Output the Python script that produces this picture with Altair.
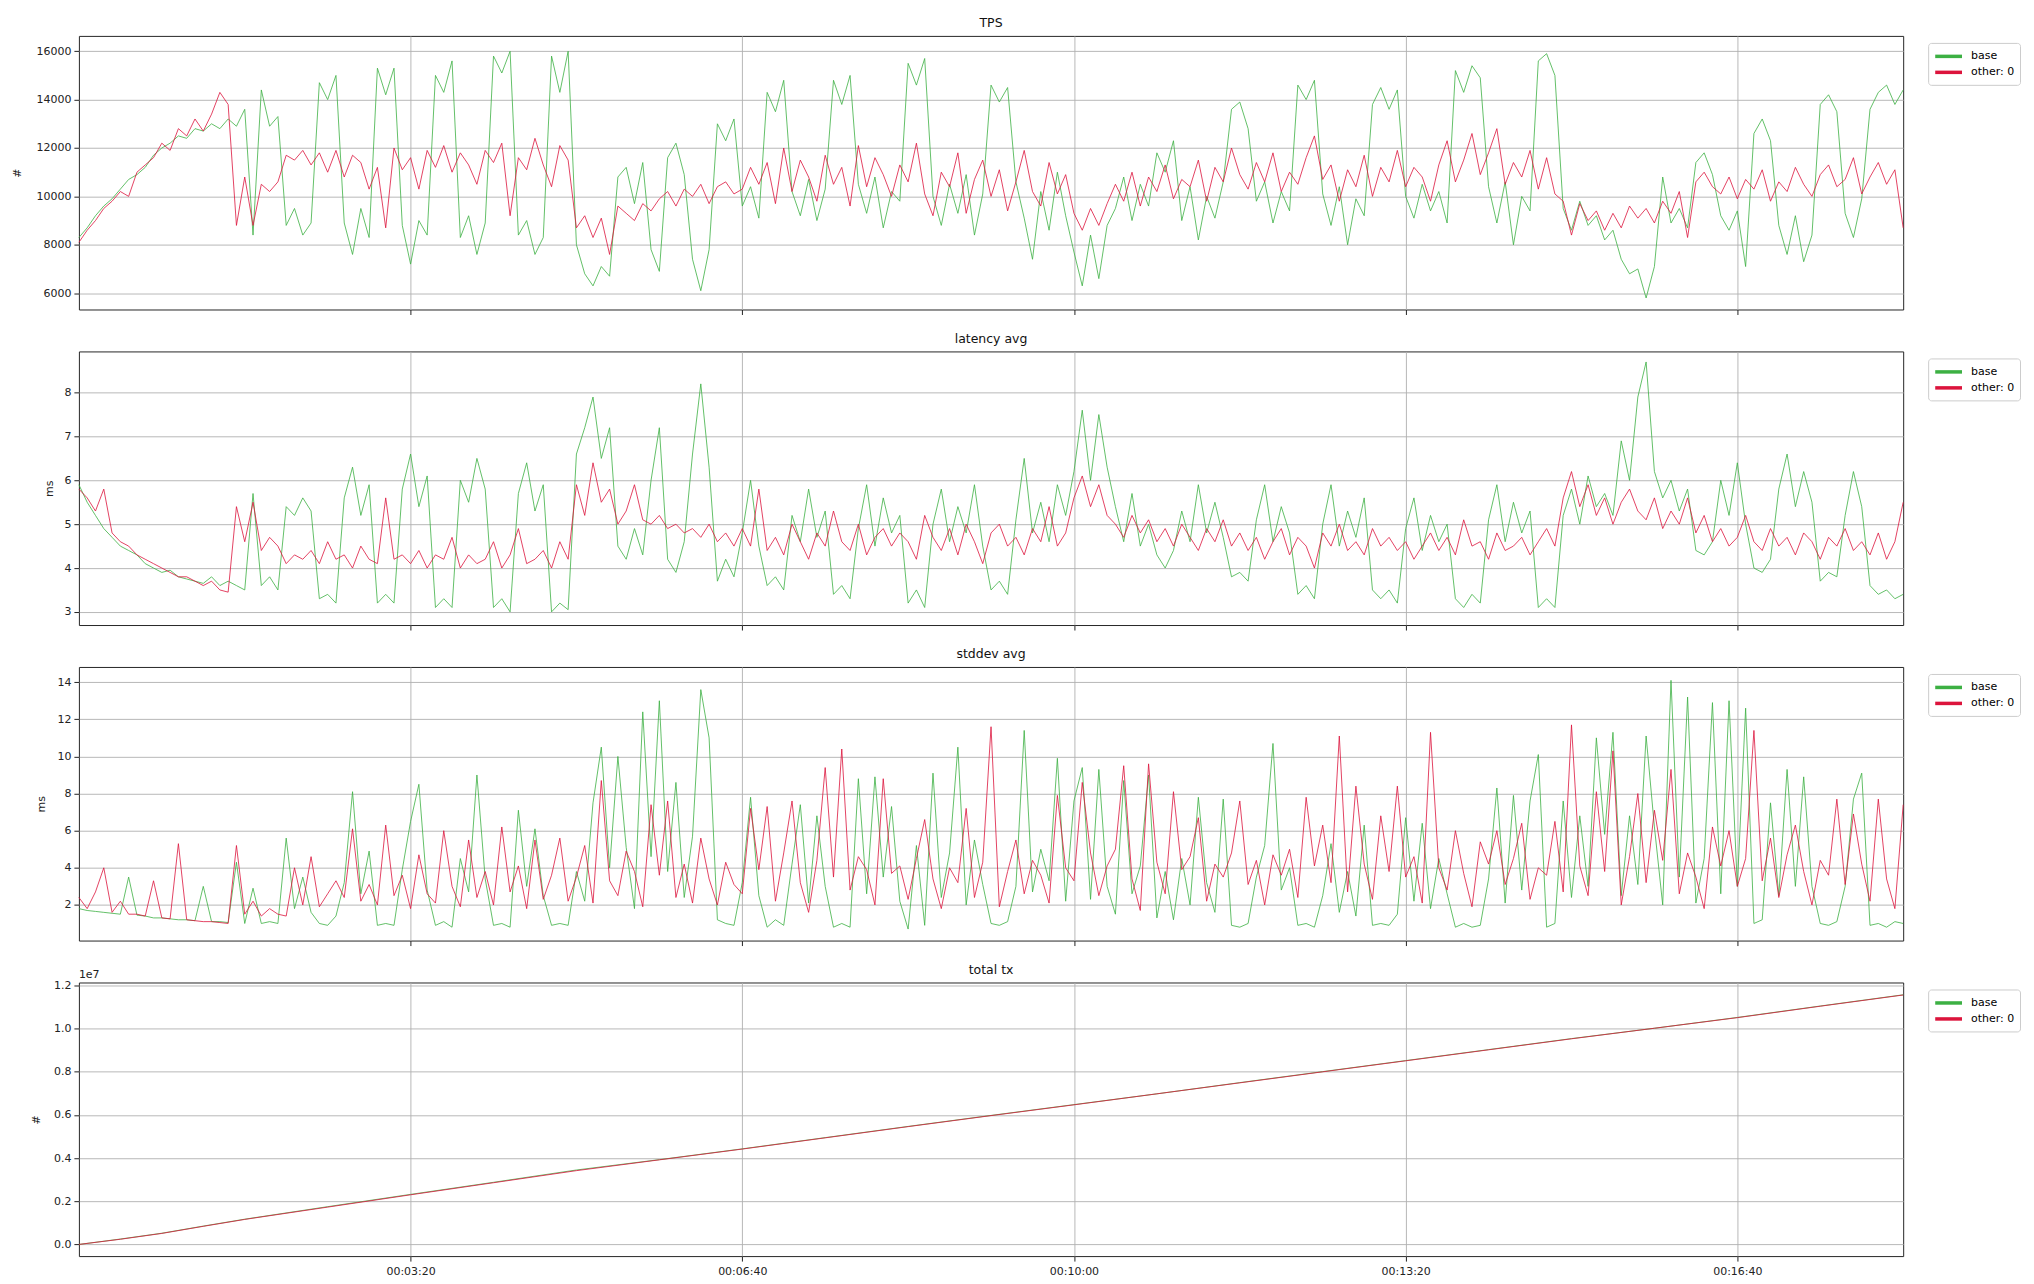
import altair as alt
import pandas as pd

# ---------------- data (5 s sampling) ----------------
STEP = 5
SERIES = ["base", "other: 0"]
COLORS = ["#3cb043", "#dc143c"]
X_TICKS = [200, 400, 600, 800, 1000]

tps_base = [
    8300, 8700, 9200, 9600, 9900, 10300, 10700, 10900, 11200, 11700, 12000, 12200, 12500, 12400, 12800, 12700, 13000, 12800, 13200, 12900,
    13600, 8400, 14400, 12900, 13300, 8800, 9500, 8400, 8900, 14700, 14000, 15000, 8900, 7600, 9500, 8300, 15300, 14200, 15300, 8800,
    7200, 9000, 8400, 15000, 14300, 15600, 8300, 9200, 7600, 8900, 15800, 15100, 16000, 8400, 9000, 7600, 8300, 15800, 14300, 16000,
    8000, 6800, 6300, 7100, 6700, 10800, 11200, 9700, 11400, 7800, 6900, 11600, 12200, 10900, 7400, 6100, 7800, 13000, 12300, 13200,
    9600, 10400, 9100, 14300, 13500, 14800, 10200, 9200, 10700, 9000, 10300, 14800, 13800, 15000, 10500, 9300, 10800, 8700, 10200, 9800,
    15500, 14600, 15700, 10000, 8800, 10500, 9300, 10900, 8400, 10100, 14600, 13900, 14500, 10600, 9100, 7400, 10200, 8600, 11000, 9200,
    7700, 6300, 8400, 6600, 8800, 9500, 10800, 9000, 10500, 9600, 11800, 11000, 12300, 9000, 10400, 8200, 10000, 9100, 10600, 13600,
    13900, 12800, 9800, 10600, 8900, 10200, 9400, 14600, 14000, 14800, 10100, 8800, 10400, 8000, 9900, 9200, 13800, 14500, 13600, 14400,
    10000, 9100, 10500, 9400, 10200, 8900, 15200, 14300, 15400, 14900, 10400, 8900, 10600, 8000, 10000, 9400, 15600, 15900, 15000, 9500,
    8600, 9800, 8800, 9200, 8200, 8600, 7400, 6800, 7000, 5800, 7100, 10800, 8900, 9500, 8700, 11400, 11800, 10900, 9200, 8600,
    9400, 7100, 12600, 13200, 12300, 8800, 7600, 9200, 7300, 8400, 13800, 14200, 13500, 9300, 8300, 9900, 13600, 14300, 14600, 13800,
    14400,
]
tps_other = [
    8100, 8600, 9000, 9500, 9800, 10200, 10000, 11000, 11300, 11600, 12200, 11900, 12800, 12500, 13200, 12700, 13400, 14300, 13800, 8800,
    10800, 8800, 10500, 10200, 10600, 11700, 11500, 11900, 11300, 11800, 11000, 11900, 10800, 11700, 11400, 10300, 11200, 8700, 12000, 11100,
    11600, 10300, 11900, 11200, 12100, 11000, 11800, 11300, 10500, 11900, 11400, 12200, 9200, 11600, 11100, 12400, 11300, 10400, 12100, 11500,
    8700, 9200, 8300, 9100, 7600, 9600, 9300, 9000, 9700, 9400, 9900, 10200, 9600, 10300, 10000, 10500, 9700, 10400, 10600, 10100,
    10300, 11200, 10500, 11400, 9700, 12000, 10200, 11500, 10800, 9800, 11700, 10500, 11200, 9600, 12100, 10400, 11600, 10900, 10000, 11300,
    10600, 12200, 10100, 9200, 11000, 10400, 11800, 9300, 10700, 11500, 10000, 11100, 9400, 10600, 11900, 10200, 9600, 11400, 10100, 10900,
    9300, 8600, 9500, 8800, 9700, 10500, 9800, 11000, 9600, 10800, 10200, 11300, 9900, 10700, 10400, 11500, 9800, 11200, 10600, 12000,
    10900, 10300, 11400, 10600, 11800, 10200, 11000, 10500, 11600, 12500, 10700, 11300, 9800, 11100, 10400, 11700, 10000, 11200, 10600, 11900,
    10400, 11200, 10800, 9800, 11300, 12300, 10600, 11500, 12600, 10900, 11800, 12800, 10500, 11400, 10800, 11900, 10300, 11600, 10100, 9800,
    8400, 9700, 9000, 9400, 8600, 9300, 8700, 9600, 9100, 9500, 8900, 9800, 9300, 10200, 8300, 10600, 11000, 10400, 10100, 10800,
    9900, 10700, 10300, 11100, 9800, 10600, 10200, 11200, 10500, 10000, 10900, 11300, 10400, 10700, 11600, 10100, 10800, 11400, 10500, 11100,
    8700,
]

lat_base = [
    5.9, 5.5, 5.2, 4.9, 4.7, 4.5, 4.4, 4.3, 4.1, 4.0, 3.9, 3.95, 3.8, 3.75, 3.7, 3.65, 3.8, 3.6, 3.7, 3.6,
    3.5, 5.7, 3.6, 3.8, 3.5, 5.4, 5.2, 5.6, 5.3, 3.3, 3.4, 3.2, 5.6, 6.3, 5.2, 5.9, 3.2, 3.4, 3.2, 5.8,
    6.6, 5.4, 6.1, 3.1, 3.3, 3.1, 6.0, 5.5, 6.5, 5.8, 3.1, 3.3, 3.0, 5.7, 6.4, 5.3, 5.9, 3.0, 3.2, 3.05,
    6.6, 7.2, 7.9, 6.5, 7.2, 4.5, 4.2, 4.9, 4.3, 6.0, 7.2, 4.2, 3.9, 4.6, 6.6, 8.2, 6.3, 3.7, 4.2, 3.8,
    4.8, 6.0, 4.5, 3.6, 3.8, 3.5, 5.2, 4.6, 5.8, 4.7, 5.3, 3.4, 3.6, 3.3, 4.9, 5.9, 4.5, 5.6, 4.8, 5.2,
    3.2, 3.5, 3.1, 5.0, 5.8, 4.6, 5.4, 4.8, 5.9, 4.5, 3.5, 3.7, 3.4, 5.1, 6.5, 4.8, 5.5, 4.6, 5.9, 5.2,
    6.2, 7.6, 6.0, 7.5, 6.3, 5.4, 4.6, 5.7, 4.5, 5.0, 4.3, 4.0, 4.4, 5.3, 4.6, 5.9, 4.8, 5.5, 4.7, 3.8,
    3.9, 3.7, 5.1, 5.9, 4.6, 5.4, 4.8, 3.4, 3.6, 3.3, 5.0, 5.9, 4.5, 5.3, 4.7, 5.6, 3.5, 3.3, 3.5, 3.2,
    4.9, 5.6, 4.4, 5.2, 4.6, 5.0, 3.3, 3.1, 3.4, 3.2, 5.1, 5.9, 4.6, 5.5, 4.8, 5.3, 3.1, 3.3, 3.1, 5.2,
    5.8, 5.0, 6.1, 5.4, 5.7, 5.2, 6.9, 6.0, 7.9, 8.7, 6.2, 5.6, 6.0, 5.3, 5.8, 4.4, 4.3, 4.6, 6.0, 5.2,
    6.4, 5.0, 4.0, 3.9, 4.2, 5.8, 6.6, 5.4, 6.2, 5.5, 3.7, 3.9, 3.8, 5.2, 6.2, 5.4, 3.6, 3.4, 3.5, 3.3,
    3.4,
]
lat_other = [
    5.8, 5.6, 5.3, 5.8, 4.8, 4.6, 4.5, 4.3, 4.2, 4.1, 4.0, 3.9, 3.8, 3.8, 3.7, 3.6, 3.7, 3.5, 3.45, 5.4,
    4.6, 5.5, 4.4, 4.7, 4.5, 4.1, 4.3, 4.2, 4.4, 4.1, 4.6, 4.2, 4.3, 4.0, 4.5, 4.2, 4.1, 5.6, 4.2, 4.3,
    4.1, 4.4, 4.0, 4.3, 4.2, 4.7, 4.0, 4.3, 4.1, 4.2, 4.6, 4.0, 4.3, 4.9, 4.1, 4.2, 4.4, 4.0, 4.6, 4.2,
    5.9, 5.2, 6.4, 5.5, 5.8, 5.0, 5.3, 5.9, 5.1, 5.0, 5.2, 4.9, 5.0, 4.8, 4.9, 4.7, 5.0, 4.6, 4.8, 4.5,
    4.9, 4.5, 5.8, 4.4, 4.7, 4.3, 5.0, 4.6, 4.2, 4.8, 4.5, 5.3, 4.6, 4.4, 5.0, 4.3, 4.7, 4.9, 4.5, 4.8,
    4.6, 4.2, 5.2, 4.7, 4.4, 4.9, 4.3, 5.0, 4.6, 4.1, 4.8, 5.0, 4.5, 4.7, 4.3, 4.9, 4.6, 5.4, 4.5, 4.8,
    5.6, 6.1, 5.4, 5.9, 5.2, 5.0, 4.7, 5.2, 4.8, 5.1, 4.6, 4.9, 4.5, 5.0, 4.7, 4.4, 4.9, 4.6, 5.1, 4.5,
    4.8, 4.4, 4.7, 4.2, 4.6, 4.9, 4.3, 4.7, 4.5, 4.0, 4.8, 4.5, 5.0, 4.4, 4.6, 4.3, 4.9, 4.5, 4.7, 4.4,
    4.6, 4.2, 4.5, 4.8, 4.4, 4.7, 4.3, 5.1, 4.5, 4.6, 4.2, 4.8, 4.4, 4.5, 4.7, 4.3, 4.6, 4.9, 4.5, 5.6,
    6.2, 5.4, 5.9, 5.2, 5.6, 5.0, 5.5, 5.8, 5.3, 5.1, 5.6, 4.9, 5.3, 5.0, 5.6, 4.8, 5.2, 4.6, 4.9, 4.5,
    4.7, 5.2, 4.6, 4.4, 4.9, 4.5, 4.7, 4.3, 4.8, 4.6, 4.2, 4.7, 4.5, 4.9, 4.4, 4.6, 4.3, 4.8, 4.2, 4.6,
    5.5,
]

std_base = [
    1.8, 1.7, 1.65, 1.6, 1.55, 1.5, 3.5, 1.45, 1.4, 1.3, 1.3, 1.25, 1.2, 1.2, 1.15, 3.0, 1.1, 1.1, 1.05, 4.3,
    1.0, 2.9, 1.0, 1.1, 1.0, 5.6, 1.8, 3.5, 1.6, 1.0, 0.9, 1.4, 3.2, 8.1, 2.6, 4.9, 0.9, 1.0, 0.9, 3.9,
    6.5, 8.5, 2.8, 0.9, 1.1, 0.8, 4.5, 2.7, 9.0, 3.4, 0.9, 1.0, 0.8, 7.1, 3.0, 6.1, 2.5, 0.9, 1.0, 0.9,
    3.8, 2.2, 7.5, 10.5, 4.0, 10.0, 5.1, 1.8, 12.4, 4.6, 13.0, 3.8, 8.6, 2.4, 5.7, 13.6, 11.0, 1.2, 1.0, 0.9,
    3.2, 7.8, 2.5, 0.8, 1.2, 0.9, 4.2, 7.4, 2.1, 6.8, 3.0, 0.8, 1.0, 0.8, 8.8, 2.6, 8.9, 3.5, 7.3, 2.2,
    0.7, 5.2, 0.9, 9.1, 2.4, 4.8, 10.5, 2.0, 5.5, 3.1, 1.0, 0.9, 1.1, 3.0, 11.4, 2.7, 5.0, 3.3, 9.9, 2.2,
    7.6, 9.4, 2.3, 9.3, 3.0, 1.5, 8.7, 2.6, 4.1, 9.0, 1.3, 3.8, 1.2, 4.5, 2.0, 7.8, 3.2, 1.6, 7.7, 0.9,
    0.8, 1.0, 3.5, 5.2, 10.7, 2.8, 4.0, 0.9, 1.0, 0.8, 2.5, 5.3, 1.6, 3.8, 1.4, 6.3, 0.9, 1.0, 0.9, 1.5,
    6.7, 2.2, 6.4, 1.8, 4.5, 2.6, 0.8, 1.0, 0.8, 0.9, 3.4, 8.3, 2.1, 7.9, 2.8, 7.6, 10.1, 0.8, 1.0, 7.6,
    2.4, 6.8, 3.0, 11.0, 5.8, 11.3, 2.5, 6.8, 3.1, 11.1, 6.2, 2.0, 14.1, 3.5, 13.2, 2.1, 4.5, 12.9, 2.6, 13.0,
    3.0, 12.6, 1.0, 1.2, 7.5, 2.5, 9.3, 3.0, 8.9, 3.0, 1.0, 0.9, 1.1, 3.0, 7.7, 9.1, 0.9, 1.0, 0.8, 1.1,
    1.0,
]
std_other = [
    2.4, 1.8, 2.7, 4.0, 1.6, 2.2, 1.5, 1.5, 1.4, 3.3, 1.3, 1.25, 5.3, 1.2, 1.15, 1.1, 1.1, 1.05, 1.0, 5.2,
    1.5, 2.2, 1.4, 1.8, 1.5, 1.4, 4.0, 2.0, 4.6, 1.9, 2.6, 3.3, 2.4, 6.1, 2.2, 3.1, 2.0, 6.3, 2.5, 3.6,
    1.8, 4.7, 2.6, 2.1, 6.0, 3.0, 1.9, 5.5, 2.4, 3.8, 2.0, 6.2, 2.7, 4.1, 1.8, 5.5, 2.3, 3.6, 5.6, 2.2,
    3.5, 5.2, 2.1, 8.7, 3.3, 2.5, 4.9, 3.8, 1.9, 7.4, 3.6, 7.6, 2.4, 4.2, 2.1, 5.6, 3.4, 2.0, 4.3, 3.1,
    2.6, 7.2, 3.9, 7.3, 2.2, 4.8, 7.6, 3.2, 1.6, 4.4, 9.4, 3.5, 10.4, 2.8, 4.6, 3.9, 2.0, 8.8, 3.7, 4.1,
    2.3, 4.5, 6.6, 3.4, 1.8, 4.0, 3.2, 7.2, 2.4, 4.3, 11.6, 1.9, 3.8, 5.5, 2.6, 4.4, 3.6, 2.1, 7.9, 4.0,
    3.3, 8.6, 4.8, 2.5, 4.1, 5.0, 9.5, 3.4, 1.7, 9.6, 4.3, 2.6, 8.1, 3.9, 4.6, 6.7, 2.2, 4.2, 3.5, 4.8,
    7.6, 3.1, 4.4, 2.0, 4.7, 3.6, 5.0, 2.4, 7.8, 4.1, 6.3, 3.2, 11.1, 2.7, 8.4, 4.2, 2.3, 6.8, 3.8, 8.4,
    3.5, 4.6, 2.1, 11.3, 4.0, 2.8, 6.0, 3.7, 1.9, 5.4, 4.2, 6.0, 3.1, 4.5, 6.4, 2.3, 4.0, 3.6, 6.5, 2.7,
    11.7, 4.1, 2.5, 8.1, 3.8, 10.3, 2.0, 4.6, 8.0, 3.2, 7.1, 4.4, 9.3, 2.6, 4.8, 3.5, 1.8, 6.2, 4.1, 6.0,
    3.0, 4.5, 11.4, 3.3, 5.6, 2.4, 4.7, 6.3, 3.8, 2.0, 4.4, 3.6, 7.7, 3.1, 6.9, 4.2, 2.2, 7.7, 3.4, 1.8,
    7.4,
]

tx_t = [0, 25, 50, 75, 100, 150, 200, 250, 300, 350, 400, 450, 500, 550, 600, 650, 700, 750, 800, 850, 900, 950, 1000, 1050, 1100]
tx_base = [0, 250000, 520000, 850000, 1170000, 1750000, 2320000, 2880000, 3450000, 3930000, 4430000, 4950000, 5470000,
           5980000, 6480000, 6980000, 7500000, 8010000, 8520000, 9030000, 9540000, 10020000, 10520000, 11050000, 11570000]
tx_other = [0, 240000, 510000, 840000, 1160000, 1730000, 2300000, 2860000, 3420000, 3920000, 4420000, 4940000, 5460000,
            5970000, 6470000, 6980000, 7490000, 8000000, 8510000, 9020000, 9530000, 10020000, 10510000, 11040000, 11560000]

TPS_TICKS = [6000, 8000, 10000, 12000, 14000, 16000]
LAT_TICKS = [3, 4, 5, 6, 7, 8]
STD_TICKS = [2, 4, 6, 8, 10, 12, 14]
TX_TICKS = [0, 2000000, 4000000, 6000000, 8000000, 10000000, 12000000]
OFFSET_TEXT = ["1e7"]

# ---------------- layout ----------------
W, H = 1827, 274
FONT = "DejaVu Sans"
LEGEND_SWATCH = "M-2,0H2"   # long horizontal stroke, compact row height


def frame(vb, vo, times=None):
    rows = []
    for name, vals in ((SERIES[0], vb), (SERIES[1], vo)):
        ts = times if times is not None else list(range(0, STEP * len(vals), STEP))
        for tt, vv in zip(ts, vals):
            rows.append({"t": tt, "v": vv, "s": name})
    return pd.DataFrame(rows)


def panel(df, title, ytitle, ydomain, yticks, title_x, bottom=False, label_expr=None,
          offset_text=None, title_offset=6):
    x = alt.X("t:Q", title=None,
              scale=alt.Scale(domain=[0, 1100], nice=False, zero=False),
              axis=alt.Axis(values=X_TICKS, labels=bottom, grid=True, tickSize=5,
                            labelPadding=4, labelFontSize=11,
                            labelExpr="utcFormat(datum.value * 1000, '%H:%M:%S')"))
    ax = dict(values=yticks, title=ytitle, titleX=title_x, titleY=H / 2, titleBaseline="middle",
              grid=True, tickSize=5, labelPadding=3, labelFontSize=11)
    if label_expr:
        ax["labelExpr"] = label_expr
    else:
        ax["format"] = "d"
    y = alt.Y("v:Q", scale=alt.Scale(domain=ydomain, nice=False, zero=False), axis=alt.Axis(**ax))
    color = alt.Color("s:N", scale=alt.Scale(domain=SERIES, range=COLORS),
                      legend=alt.Legend(title=None, orient="none", legendX=W + 25, legendY=7,
                                        symbolType=LEGEND_SWATCH, symbolSize=180, symbolStrokeWidth=3.5,
                                        symbolOffset=7, symbolOpacity=1, symbolFillColor="transparent",
                                        labelFontSize=11, labelFont=FONT, labelOffset=14,
                                        strokeColor="#cccccc", fillColor="white", cornerRadius=3,
                                        padding=5, rowPadding=0))
    base = alt.Chart(df).transform_filter(alt.datum.s == SERIES[0]).mark_line(
        strokeWidth=1, opacity=0.8).encode(x=x, y=y, color=color)
    other = alt.Chart(df).transform_filter(alt.datum.s == SERIES[1]).mark_line(
        strokeWidth=1, opacity=0.8).encode(x=x, y=y, color=color)
    layers = [base, other]
    if offset_text:
        layers.append(alt.Chart(pd.DataFrame({"label": offset_text})).mark_text(
            align="left", baseline="bottom", fontSize=11, font=FONT, color="#222").encode(
            x=alt.value(0), y=alt.value(-3), text="label:N"))
    return alt.layer(*layers).properties(
        width=W, height=H, title=alt.TitleParams(title, offset=title_offset))


p1 = panel(frame(tps_base, tps_other), "TPS", "#", [5324, 16634], TPS_TICKS, -61)
p2 = panel(frame(lat_base, lat_other), "latency avg", "ms", [2.70, 8.94], LAT_TICKS, -29)
p3 = panel(frame(std_base, std_other), "stddev avg", "ms", [0.08, 14.82], STD_TICKS, -37)
p4 = panel(frame(tx_base, tx_other, tx_t), "total tx", "#", [-540000, 12140000], TX_TICKS, -42,
           bottom=True, label_expr="format(datum.value / 10000000, '.1f')", offset_text=OFFSET_TEXT,
           title_offset=-8)

chart = alt.vconcat(p1, p2, p3, p4, spacing=17).resolve_scale(
    color="independent", y="independent"
).properties(
    padding={"left": 3, "top": 8, "right": 5, "bottom": 2}
).configure(font=FONT).configure_view(
    stroke="#262626", strokeWidth=1
).configure_axis(
    gridColor="#b0b0b0", gridWidth=0.9, domain=False, tickColor="#222", labelColor="#222",
    titleColor="#222", labelFont=FONT, titleFont=FONT, titleFontWeight="normal", titleFontSize=11
).configure_title(
    font=FONT, fontSize=12.5, fontWeight="normal", color="#111", anchor="middle"
)

chart.save("out.html", embed_options={"renderer": "svg", "actions": False})
